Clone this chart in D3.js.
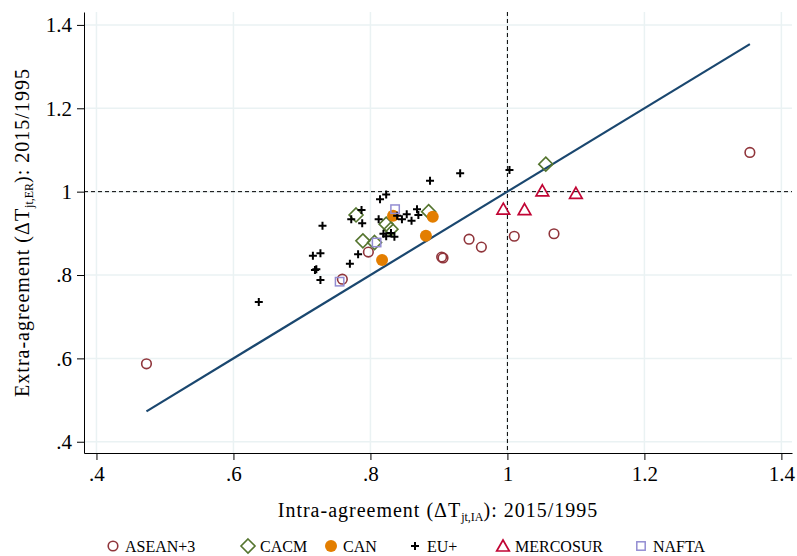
<!DOCTYPE html>
<html>
<head>
<meta charset="utf-8">
<script src="https://cdn.jsdelivr.net/npm/d3@7"></script>
<style>
body { margin: 0; background: #fff; }
text { font-family: "Liberation Serif", "DejaVu Serif", serif; fill: #000; }
.grid line { stroke: #eaf2f3; stroke-width: 1.5; }
.axis path, .axis line { stroke: #000; stroke-width: 1; }
.axis text { font-size: 21px; }
.title { font-size: 20px; letter-spacing: 1px; }
</style>
</head>
<body>
<div id="chart"></div>
<script>
const width = 797, height = 556;
const margin = {top: 12, right: 5, bottom: 103, left: 84};

const groups = ['ASEAN+3', 'CACM', 'CAN', 'EU+', 'MERCOSUR', 'NAFTA'];
const colors = ['#90353b', '#55752f', '#e37e00', '#000000', '#c10534', '#938dd2'];

const xTicks = [0.4, 0.6, 0.8, 1, 1.2, 1.4];
const yTicks = [0.4, 0.6, 0.8, 1, 1.2, 1.4];

// intra (x) / extra (y) ratios per agreement
const asean_x = [0.473, 0.759, 0.797, 0.904, 0.906, 0.944, 0.962, 1.010, 1.068, 1.354];
const asean_y = [0.587, 0.790, 0.855, 0.843, 0.841, 0.886, 0.867, 0.893, 0.899, 1.094];
const cacm_x = [0.779, 0.789, 0.806, 0.823, 0.830, 0.885, 1.056];
const cacm_y = [0.944, 0.882, 0.878, 0.922, 0.910, 0.952, 1.066];
const can_x = [0.817, 0.833, 0.881, 0.891];
const can_y = [0.836, 0.942, 0.894, 0.940];
const eu_x = [0.637, 0.716, 0.719, 0.721, 0.727, 0.727, 0.730, 0.770, 0.772, 0.782,
              0.787, 0.788, 0.812, 0.814, 0.823, 0.819, 0.823, 0.830, 0.835, 0.839,
              0.846, 0.853, 0.860, 0.868, 0.870, 0.887, 0.931, 1.003];
const eu_y = [0.735, 0.846, 0.812, 0.814, 0.852, 0.788, 0.918, 0.827, 0.934, 0.850,
              0.956, 0.924, 0.934, 0.982, 0.993, 0.899, 0.893, 0.901, 0.892, 0.942,
              0.934, 0.946, 0.930, 0.958, 0.944, 1.026, 1.044, 1.052];
const mercosur_x = [0.994, 1.025, 1.051, 1.100];
const mercosur_y = [0.958, 0.957, 1.002, 0.996];
const nafta_x = [0.755, 0.809, 0.836];
const nafta_y = [0.784, 0.878, 0.958];

const seriesX = [asean_x, cacm_x, can_x, eu_x, mercosur_x, nafta_x];
const seriesY = [asean_y, cacm_y, can_y, eu_y, mercosur_y, nafta_y];

let points = [];
groups.forEach(function(g, i) {
    seriesX[i].forEach(function(v, j) {
        points.push({group: i, x: v, y: seriesY[i][j]});
    });
});

const graph_width = width - margin.left - margin.right;
const graph_height = height - margin.top - margin.bottom;

const xScale = d3.scaleLinear().domain([0.3818, 1.4155]).range([0, graph_width]);
const yScale = d3.scaleLinear().domain([0.373, 1.431]).range([graph_height, 0]);

const fmt = function(v) {
    let s = d3.format('~g')(v);
    return s.replace(/^0\./, '.');
}

// marker shapes
const shapes = [
    function(sel) { sel.append('circle').attr('r', 4.8).attr('fill', 'none').attr('stroke-width', 1.6); },
    function(sel) { sel.append('path').attr('d', 'M0,-7L7,0L0,7L-7,0Z').attr('fill', 'none').attr('stroke-width', 1.6); },
    function(sel) { sel.append('circle').attr('r', 6).attr('stroke', 'none'); },
    function(sel) { sel.append('path').attr('d', 'M-4,0H4M0,-4V4').attr('fill', 'none').attr('stroke-width', 2); },
    function(sel) { sel.append('path').attr('d', 'M0,-6L6.3,5L-6.3,5Z').attr('fill', 'none').attr('stroke-width', 1.7); },
    function(sel) { sel.append('rect').attr('x', -4.2).attr('y', -4.2).attr('width', 8.4).attr('height', 8.4).attr('fill', 'none').attr('stroke-width', 1.5); }
];

function drawMarker(g, i) {
    g.attr('stroke', colors[i]).attr('fill', colors[i]);
    shapes[i](g);
}

const svg = d3.select('#chart').append('svg')
    .attr('width', width)
    .attr('height', height);

const plot = svg.append('g')
    .attr('transform', 'translate(' + margin.left + ',' + margin.top + ')');

// grid
const grid = plot.append('g').attr('class', 'grid');
grid.selectAll('.gx').data(xTicks).enter().append('line')
    .attr('x1', d => xScale(d)).attr('x2', d => xScale(d))
    .attr('y1', 0).attr('y2', graph_height);
grid.selectAll('.gy').data(yTicks).enter().append('line')
    .attr('x1', 0).attr('x2', graph_width)
    .attr('y1', d => yScale(d)).attr('y2', d => yScale(d));

// reference lines at 1
plot.append('line')
    .attr('x1', xScale(1)).attr('x2', xScale(1))
    .attr('y1', 0).attr('y2', graph_height)
    .attr('stroke', '#000').attr('stroke-width', 1).attr('stroke-dasharray', '4,3');
plot.append('line')
    .attr('x1', 0).attr('x2', graph_width)
    .attr('y1', yScale(1)).attr('y2', yScale(1))
    .attr('stroke', '#000').attr('stroke-width', 1).attr('stroke-dasharray', '4,3');

// 45 degree line over the range of x
const xExt = d3.extent(points, d => d.x);
plot.append('line')
    .attr('x1', xScale(xExt[0])).attr('y1', yScale(xExt[0]))
    .attr('x2', xScale(xExt[1])).attr('y2', yScale(xExt[1]))
    .attr('stroke', '#1a476f').attr('stroke-width', 2.2);

// points
plot.selectAll('.pt').data(points).enter().append('g')
    .attr('class', 'pt')
    .attr('transform', d => 'translate(' + xScale(d.x) + ',' + yScale(d.y) + ')')
    .each(function(d) { drawMarker(d3.select(this), d.group); });

// axes
plot.append('g')
    .attr('class', 'axis')
    .attr('transform', 'translate(0,' + graph_height + ')')
    .call(d3.axisBottom(xScale).tickValues(xTicks).tickFormat(fmt).tickSize(7).tickSizeOuter(0).tickPadding(6));
plot.append('g')
    .attr('class', 'axis')
    .call(d3.axisLeft(yScale).tickValues(yTicks).tickFormat(fmt).tickSize(7).tickSizeOuter(0).tickPadding(5));
plot.selectAll('.axis text').attr('fill', '#000');

// axis titles
const xt = svg.append('text')
    .attr('class', 'title')
    .attr('x', margin.left + graph_width / 2)
    .attr('y', 517)
    .attr('text-anchor', 'middle');
xt.append('tspan').text('Intra-agreement (\u0394T');
xt.append('tspan').attr('dy', 4).style('font-size', '12px').style('letter-spacing', '0px').text('jt,IA');
xt.append('tspan').attr('dy', -4).text('): 2015/1995');

const yt = svg.append('text')
    .attr('class', 'title')
    .attr('transform', 'translate(29,' + (margin.top + graph_height / 2) + ') rotate(-90)')
    .attr('text-anchor', 'middle');
yt.append('tspan').text('Extra-agreement (\u0394T');
yt.append('tspan').attr('dy', 4).style('font-size', '12px').style('letter-spacing', '0px').text('jt,ER');
yt.append('tspan').attr('dy', -4).text('): 2015/1995');

// legend
const legendX = [113, 248, 331, 415, 503, 641];
const legend = svg.append('g').attr('transform', 'translate(0,546)');
groups.forEach(function(g, i) {
    let item = legend.append('g').attr('transform', 'translate(' + legendX[i] + ',0)');
    drawMarker(item.append('g'), i);
    item.append('text')
        .attr('x', 12)
        .attr('y', 6)
        .style('font-size', '16px')
        .text(g);
});
</script>
</body>
</html>
